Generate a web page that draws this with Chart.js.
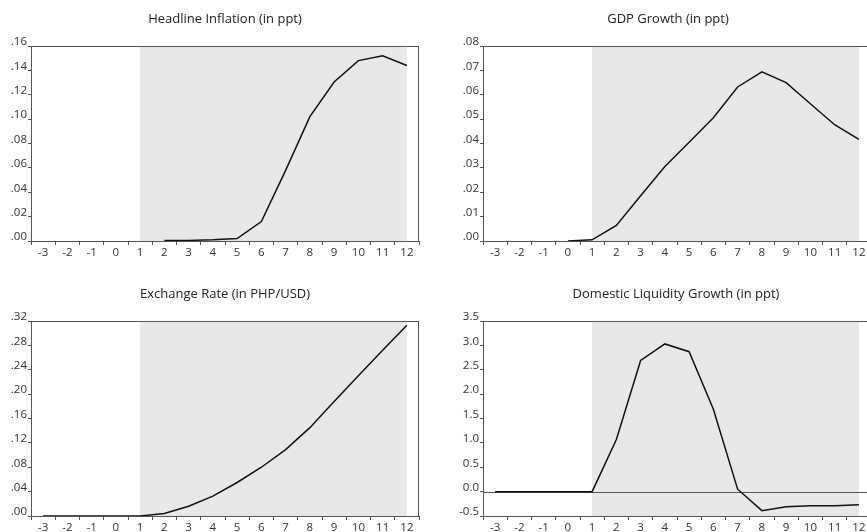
<!DOCTYPE html>
<html>
<head>
<meta charset="utf-8">
<script src="https://cdn.jsdelivr.net/npm/chart.js@4.4.1/dist/chart.umd.min.js"></script>
<style>
  html, body { margin: 0; padding: 0; background: #fff; }
  body { width: 867px; height: 532px; overflow: hidden; position: relative; }
  canvas { position: absolute; }
</style>
</head>
<body>
<canvas id="c1" width="433" height="266" style="left:0;top:0"></canvas>
<canvas id="c2" width="433" height="266" style="left:452px;top:0"></canvas>
<canvas id="c3" width="433" height="266" style="left:0;top:275px"></canvas>
<canvas id="c4" width="433" height="266" style="left:452px;top:275px"></canvas>
<script>
// Horizon (quarters) shared by all four panels
const categories = ['-3','-2','-1','0','1','2','3','4','5','6','7','8','9','10','11','12'];

// Impulse responses
const inflation = [null,null,null,null,null, 0.0005,0.0005,0.001,0.002,0.016,0.058,0.102,0.1305,0.148,0.152,0.144];
const gdpGrowth = [null,null,null, 0,0.0005,0.0064,0.0186,0.0306,0.0405,0.0506,0.0632,0.0694,0.065,0.0563,0.0477,0.0417];
const exchangeRate = [0,0,0,0,0, 0.004,0.016,0.0325,0.055,0.080,0.109,0.145,0.188,0.230,0.272,0.313];
const liquidityGrowth = [0,0,0,0,0, 1.07,2.69,3.03,2.87,1.69,0.05,-0.39,-0.31,-0.29,-0.29,-0.27];

// Shock window shaded on each panel
const shadeFrom = '1';
const shadeTo = '12';

// Panel titles
const titles = ['Headline Inflation (in ppt)', 'GDP Growth (in ppt)', 'Exchange Rate (in PHP/USD)', 'Domestic Liquidity Growth (in ppt)'];

// Y-axis ranges: [min, max, step, decimals]
const yRanges = [[0, 0.16, 0.02, 2], [0, 0.08, 0.01, 2], [0, 0.32, 0.04, 2], [-0.5, 3.5, 0.5, 1]];

const FONT = '"Open Sans", "DejaVu Sans", sans-serif';
const AXIS = '#555';

const panelPlugin = {
  id: 'panel',
  beforeDraw(chart, args, opts) {
    const { ctx, chartArea: a, scales } = chart;
    const x1 = scales.x.getPixelForValue(categories.indexOf(shadeFrom));
    const x2 = scales.x.getPixelForValue(categories.indexOf(shadeTo));
    ctx.save();
    ctx.fillStyle = '#e8e8e8';
    ctx.fillRect(x1, a.top, x2 - x1, a.bottom - a.top);
    // top and right frame lines
    ctx.strokeStyle = AXIS;
    ctx.lineWidth = 1;
    ctx.beginPath();
    const t = Math.round(a.top) + 0.5, r = Math.round(a.right) - 0.5;
    ctx.moveTo(a.left, t); ctx.lineTo(a.right, t);
    ctx.moveTo(r, a.top); ctx.lineTo(r, a.bottom);
    ctx.stroke();
    // title
    ctx.fillStyle = '#222';
    ctx.font = '13px ' + FONT;
    ctx.textAlign = 'center';
    ctx.textBaseline = 'middle';
    ctx.fillText(opts.text, opts.cx, opts.cy);
    ctx.restore();
  },
  beforeDatasetsDraw(chart, args, opts) {
    if (!opts.zeroLine) return;
    const { ctx, chartArea: a, scales } = chart;
    const y = Math.round(scales.y.getPixelForValue(0)) + 0.5;
    ctx.save();
    ctx.strokeStyle = AXIS;
    ctx.lineWidth = 1;
    ctx.beginPath();
    ctx.moveTo(a.left, y); ctx.lineTo(a.right, y);
    ctx.stroke();
    ctx.restore();
  }
};

function makePanel(id, data, idx, titleX, zeroLine) {
  const [ymin, ymax, step, dec] = yRanges[idx];
  new Chart(document.getElementById(id), {
    type: 'line',
    data: {
      labels: categories,
      datasets: [{
        data: data,
        borderColor: '#111',
        borderWidth: 1.5,
        pointRadius: 0,
        tension: 0,
        fill: false,
        spanGaps: false
      }]
    },
    options: {
      responsive: false,
      animation: false,
      devicePixelRatio: 1,
      layout: { padding: { top: 46, right: 14, left: 0, bottom: 0 } },
      plugins: {
        legend: { display: false },
        tooltip: { enabled: false },
        title: { display: false },
        panel: { text: titles[idx], cx: titleX, cy: 19, zeroLine: zeroLine }
      },
      scales: {
        x: {
          offset: true,
          grid: { offset: true, drawOnChartArea: false, drawTicks: true, tickLength: 4, color: AXIS },
          border: { display: true, color: AXIS, width: 1 },
          ticks: { color: '#333', font: { family: FONT, size: 11.5 }, padding: 1, maxRotation: 0, autoSkip: false },
          afterFit(s) { s.height = 25; }
        },
        y: {
          min: ymin, max: ymax,
          grid: { drawOnChartArea: false, drawTicks: true, tickLength: 3, color: AXIS },
          border: { display: true, color: AXIS, width: 1 },
          ticks: {
            stepSize: step,
            color: '#333',
            font: { family: FONT, size: 11.5 },
            padding: 1,
            labelOffset: -4,
            callback: v => {
              const s = Number(v).toFixed(dec);
              return dec === 2 ? s.replace(/^(-?)0\./, '$1.') : s;
            }
          },
          afterFit(s) { s.width = 31; }
        }
      }
    },
    plugins: [panelPlugin]
  });
}

makePanel('c1', inflation, 0, 225, false);
makePanel('c2', gdpGrowth, 1, 216, false);
makePanel('c3', exchangeRate, 2, 225, false);
makePanel('c4', liquidityGrowth, 3, 224, true);
</script>
</body>
</html>
